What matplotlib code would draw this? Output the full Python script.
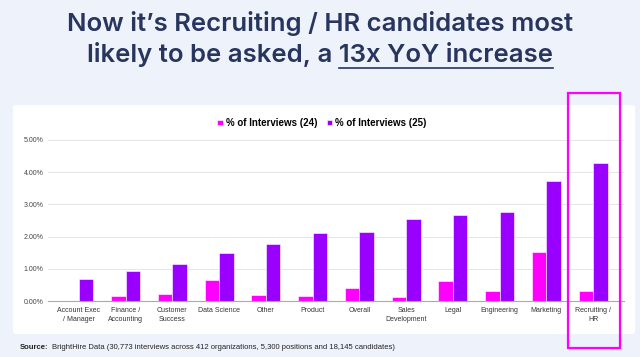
import matplotlib.pyplot as plt
import numpy as np
from matplotlib.patches import Rectangle, FancyBboxPatch
from matplotlib.lines import Line2D

# data
categories = ['Account Exec\n/ Manager', 'Finance /\nAccounting', 'Customer\nSuccess',
              'Data Science', 'Other', 'Product', 'Overall', 'Sales\nDevelopment',
              'Legal', 'Engineering', 'Marketing', 'Recruiting /\nHR']
pct_24 = [0.0, 0.17, 0.21, 0.66, 0.18, 0.17, 0.40, 0.11, 0.61, 0.32, 1.53, 0.31]
pct_25 = [0.69, 0.92, 1.14, 1.48, 1.77, 2.11, 2.15, 2.56, 2.67, 2.75, 3.73, 4.28]
series_names = ['% of Interviews (24)', '% of Interviews (25)']
y_ticks = [0, 1, 2, 3, 4, 5]

bg = '#eef2fb'
navy = '#27355f'
c24 = '#ff00ff'
c25 = '#9900ff'
title_font = 'Inter'
title_size = 18.5

fig = plt.figure(figsize=(6.4, 3.57), dpi=100, facecolor=bg)

# white card behind the chart
card = FancyBboxPatch((13 / 640, 1 - 334 / 357), 622 / 640, 229 / 357,
                      boxstyle='round,pad=0,rounding_size=0.006',
                      transform=fig.transFigure, facecolor='white',
                      edgecolor='none', zorder=-5)
fig.patches.append(card)

# title
fig.text(0.5, 1 - 31 / 357, 'Now it\u2019s Recruiting / HR candidates most',
         ha='center', va='baseline', fontsize=title_size, fontweight='semibold',
         family=title_font, color=navy)
line2 = fig.text(0.5, 1 - 62 / 357, 'likely to be asked, a 13x YoY increase',
                 ha='center', va='baseline', fontsize=title_size, fontweight='semibold',
                 family=title_font, color=navy)

ax = fig.add_axes([48 / 640, 1 - 301 / 357, 576 / 640, 161 / 357])
ax.set_facecolor('none')
x = np.arange(len(categories))
w = 0.31
ax.bar(x - w / 2, pct_24, w, color=c24, edgecolor='white', linewidth=0.4,
       label=series_names[0], zorder=3)
ax.bar(x + w / 2, pct_25, w, color=c25, edgecolor='white', linewidth=0.4,
       label=series_names[1], zorder=3)

ax.set_xlim(-0.66, len(categories) - 1 + 0.66)
ax.set_ylim(0, 5)
ax.set_yticks(y_ticks)
ax.set_yticklabels([f'{v:.2f}%' for v in y_ticks], fontsize=5, family='Liberation Sans',
                   color='#444444')
ax.set_xticks(x)
ax.set_xticklabels(categories, fontsize=5, family='Liberation Sans', color='#333333',
                   linespacing=1.5)
ax.tick_params(axis='x', length=0, pad=4)
ax.tick_params(axis='y', length=0, pad=3)
ax.grid(axis='y', color='#e6e6e6', linewidth=0.7, zorder=0)
for s in ['top', 'right', 'left']:
    ax.spines[s].set_visible(False)
ax.spines['bottom'].set_color('#aaaaaa')
ax.spines['bottom'].set_linewidth(0.8)
ax.spines['bottom'].set_zorder(4)

ax.legend(loc='center', bbox_to_anchor=(322 / 640, 1 - 123 / 357),
          bbox_transform=fig.transFigure, ncol=2, frameon=False,
          prop={'family': 'Liberation Sans', 'weight': 'bold', 'size': 7},
          handlelength=0.55, handleheight=0.55, handletextpad=0.3,
          columnspacing=1.0)

r = fig.canvas.get_renderer()

# source note
src_y = 1 - 349 / 357
src_b = fig.text(20 / 640, src_y, 'Source:', fontsize=5.5, fontweight='bold',
                 family='Liberation Sans', color='#222222', va='baseline')
bx = src_b.get_window_extent(r).x1 / fig.bbox.width
fig.text(bx + 3 / 640, src_y,
         'BrightHire Data (30,773 interviews across 412 organizations, 5,300 positions and 18,145 candidates)',
         fontsize=5.5, family='Liberation Sans', color='#222222', va='baseline')

# highlight box around Recruiting / HR
fig.patches.append(Rectangle((568 / 640, 1 - 348 / 357), 52 / 640, 255 / 357,
                             transform=fig.transFigure, fill=False,
                             edgecolor=c24, linewidth=1.6, zorder=10))

# underline "13x YoY increase"
full_bb = line2.get_window_extent(r)
tmp = fig.text(0, 0, '13x YoY increase', fontsize=title_size, fontweight='semibold',
               family=title_font)
sub_w = tmp.get_window_extent(r).width
tmp.remove()
x1 = full_bb.x1 / fig.bbox.width
x0 = (full_bb.x1 - sub_w) / fig.bbox.width
yu = 1 - 67.5 / 357
fig.lines.append(Line2D([x0, x1], [yu, yu], transform=fig.transFigure,
                        color=navy, linewidth=1.2))

fig.savefig('out.png', dpi=100, facecolor=bg)
